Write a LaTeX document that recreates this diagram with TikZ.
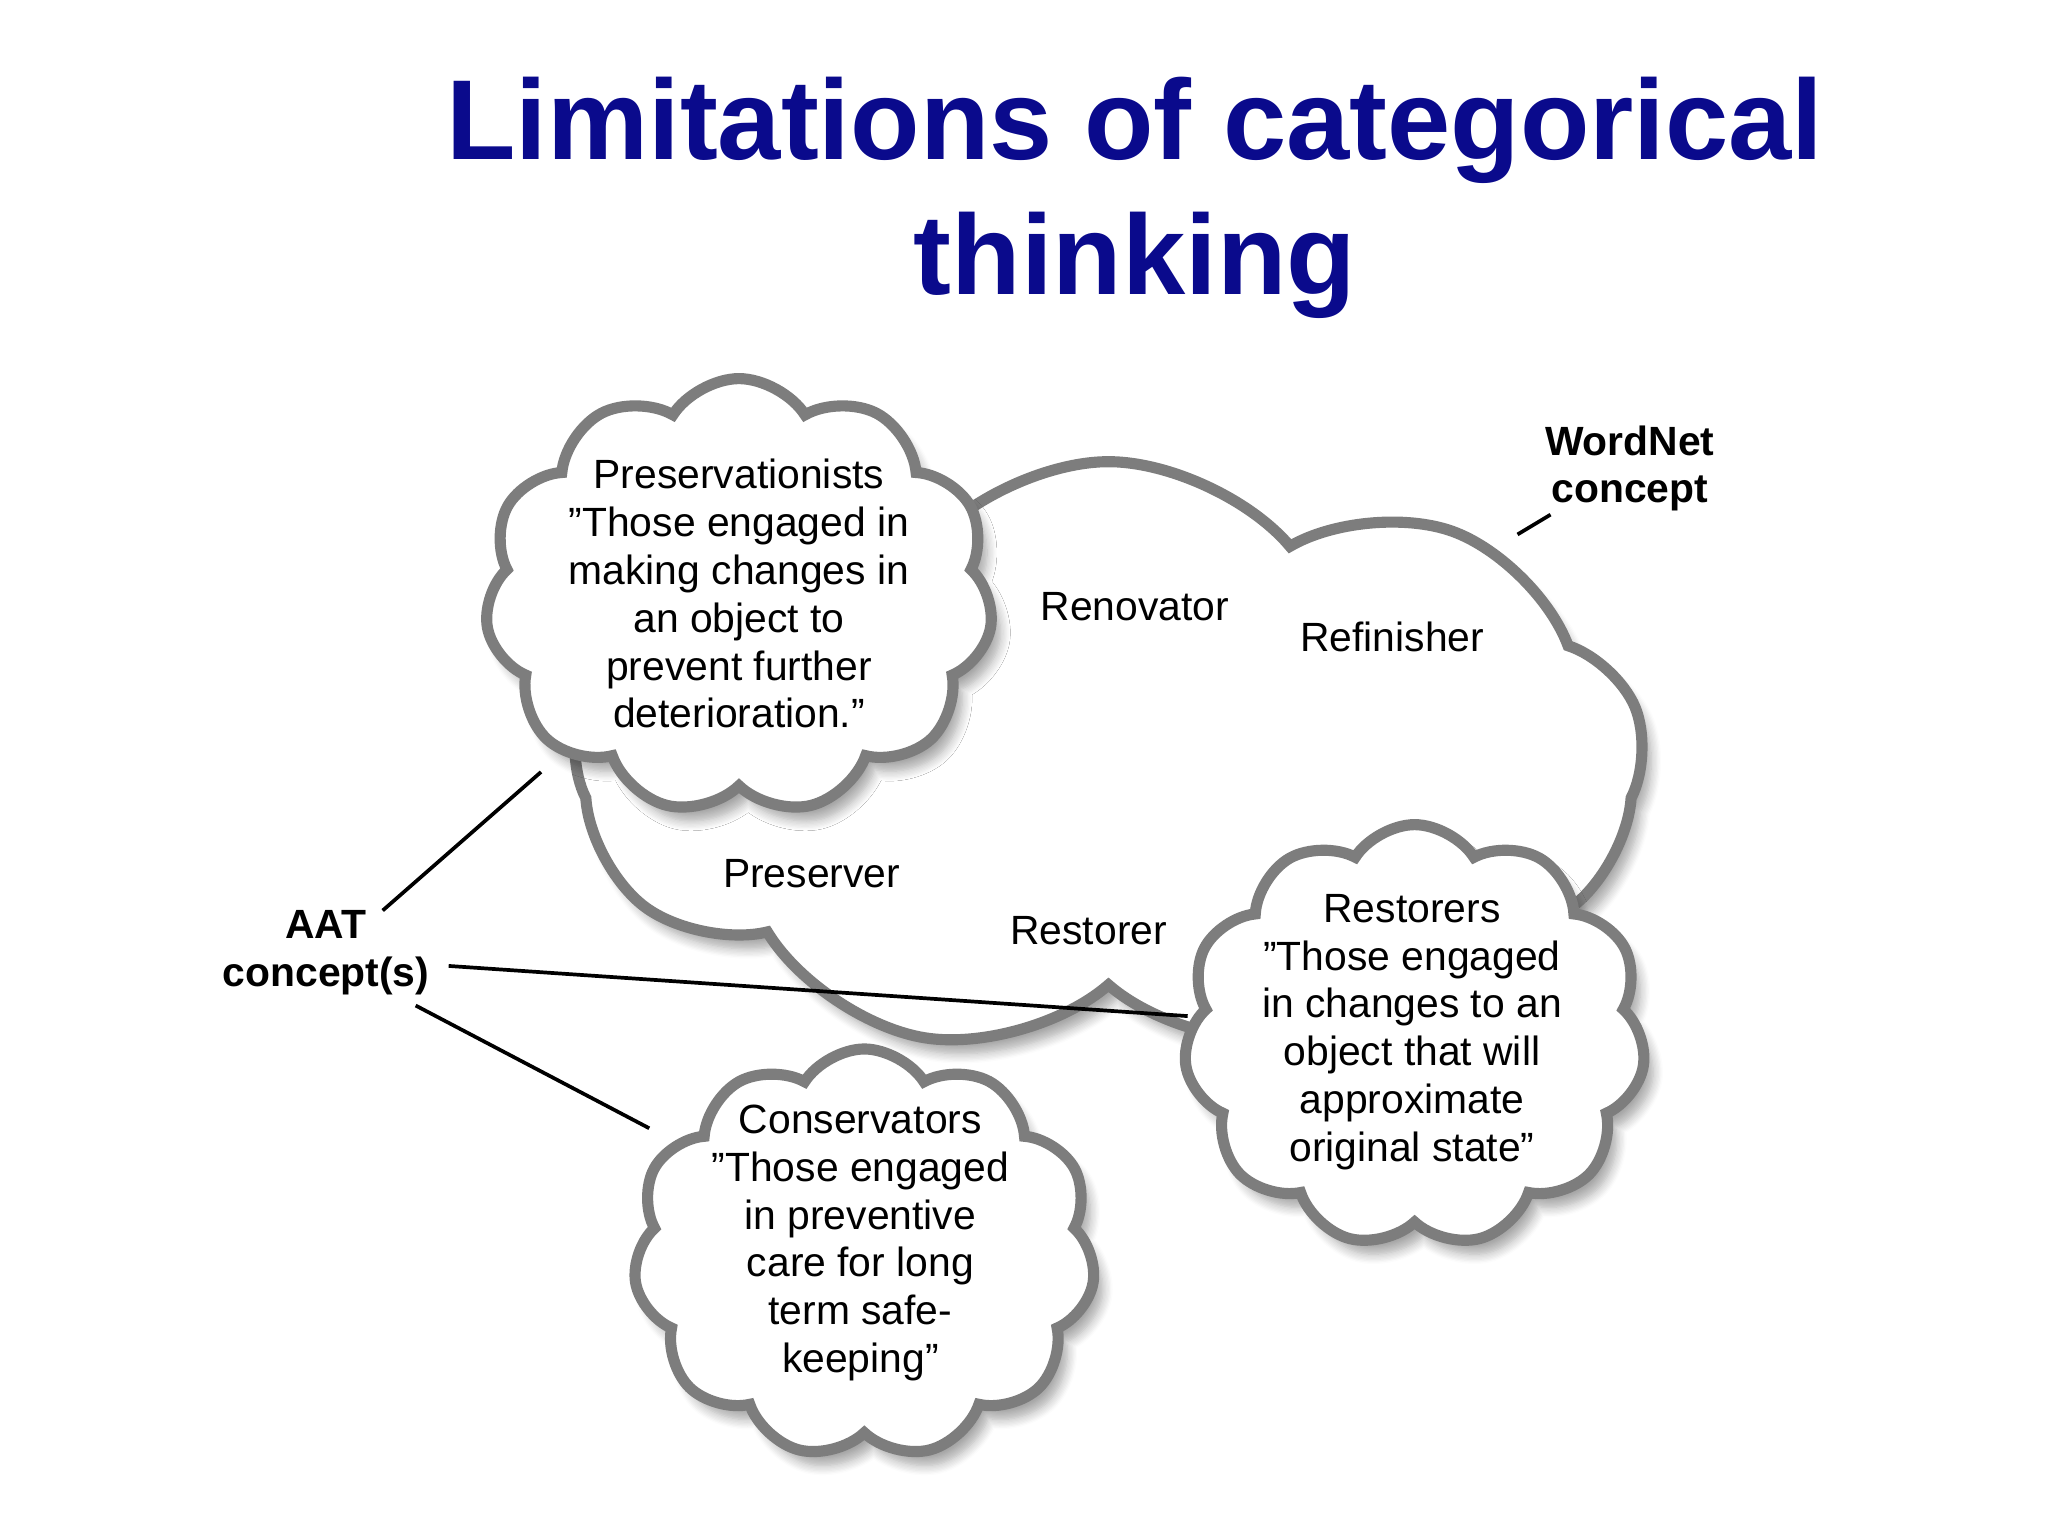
\documentclass[tikz,border=0pt]{standalone}
\usepackage{fontspec}
\setmainfont{Liberation Sans}[Ligatures=ResetAll]
\usetikzlibrary{shapes.symbols,shadows.blur}
\definecolor{ttl}{RGB}{10,10,140}
\definecolor{cb}{RGB}{125,125,125}
\newcommand{\qq}{\symbol{34}}
\tikzset{
  cl/.style={cloud, cloud puffs=#1, cloud puff arc=115, draw=cb, line width=2.4pt, fill=white,
    blur shadow={shadow xshift=2pt, shadow yshift=-3pt, shadow blur steps=8, shadow opacity=35}, inner sep=0pt},
  txt/.style={font=\fontsize{8.8}{10.3}\selectfont, align=center, text=black},
  lbl/.style={font=\fontsize{8.8}{10.3}\selectfont\bfseries, align=center},
  ln/.style={line width=0.8pt}
}
\begin{document}
\begin{tikzpicture}[x=0.01cm,y=-0.01cm]
\useasboundingbox (0,0) rectangle (1552,1164);
\node[font=\fontsize{24.5}{29}\selectfont\bfseries, text=ttl, align=center] (title) at (860,150) {Limitations of categorical\\thinking};
% big cloud
\node[cl=9, cloud puff arc=100, aspect=1.8, minimum width=8.1cm, minimum height=4.5cm] (big) at (840,575) {};
\node[txt] (renov) at (860,460) {Renovator};
\node[txt] (refin) at (1055,483) {Refinisher};
\node[txt] (pres) at (615,662) {Preserver};
\node[txt] (rest) at (825,705) {Restorer};
% labels and lines
\node[lbl] (aat) at (247,722) {AAT\\concept(s)};
\node[lbl] (wn) at (1235,355) {WordNet\\concept};
\coordinate (p1) at (410,585);
\coordinate (p2) at (900,770);
\coordinate (p3) at (492,855);
\coordinate (w1) at (1150,405);
\draw[ln] (290,690) -- (p1);
\draw[ln] (340,732) -- (p2);
\draw[ln] (315,762) -- (p3);
\draw[ln] (1175,390) -- (w1);
% small clouds
\node[cl=11, aspect=1.15, minimum width=3.85cm, minimum height=3.3cm] (c1) at (560,452) {};
\node[txt] (t1) at (560,450) {Preservationists\\\qq Those engaged in\\making changes in\\an object to\\prevent further\\deterioration.\qq};
\node[cl=11, aspect=1.1, minimum width=3.5cm, minimum height=3.2cm] (c2) at (1072,785) {};
\node[txt] (t2) at (1070,782) {Restorers\\\qq Those engaged\\in changes to an\\object that will\\approximate\\original state\qq};
\node[cl=11, aspect=1.1, minimum width=3.5cm, minimum height=3.1cm] (c3) at (655,950) {};
\node[txt] (t3) at (652,942) {Conservators\\\qq Those engaged\\in preventive\\care for long\\term safe-\\keeping\qq};
\end{tikzpicture}
\end{document}
